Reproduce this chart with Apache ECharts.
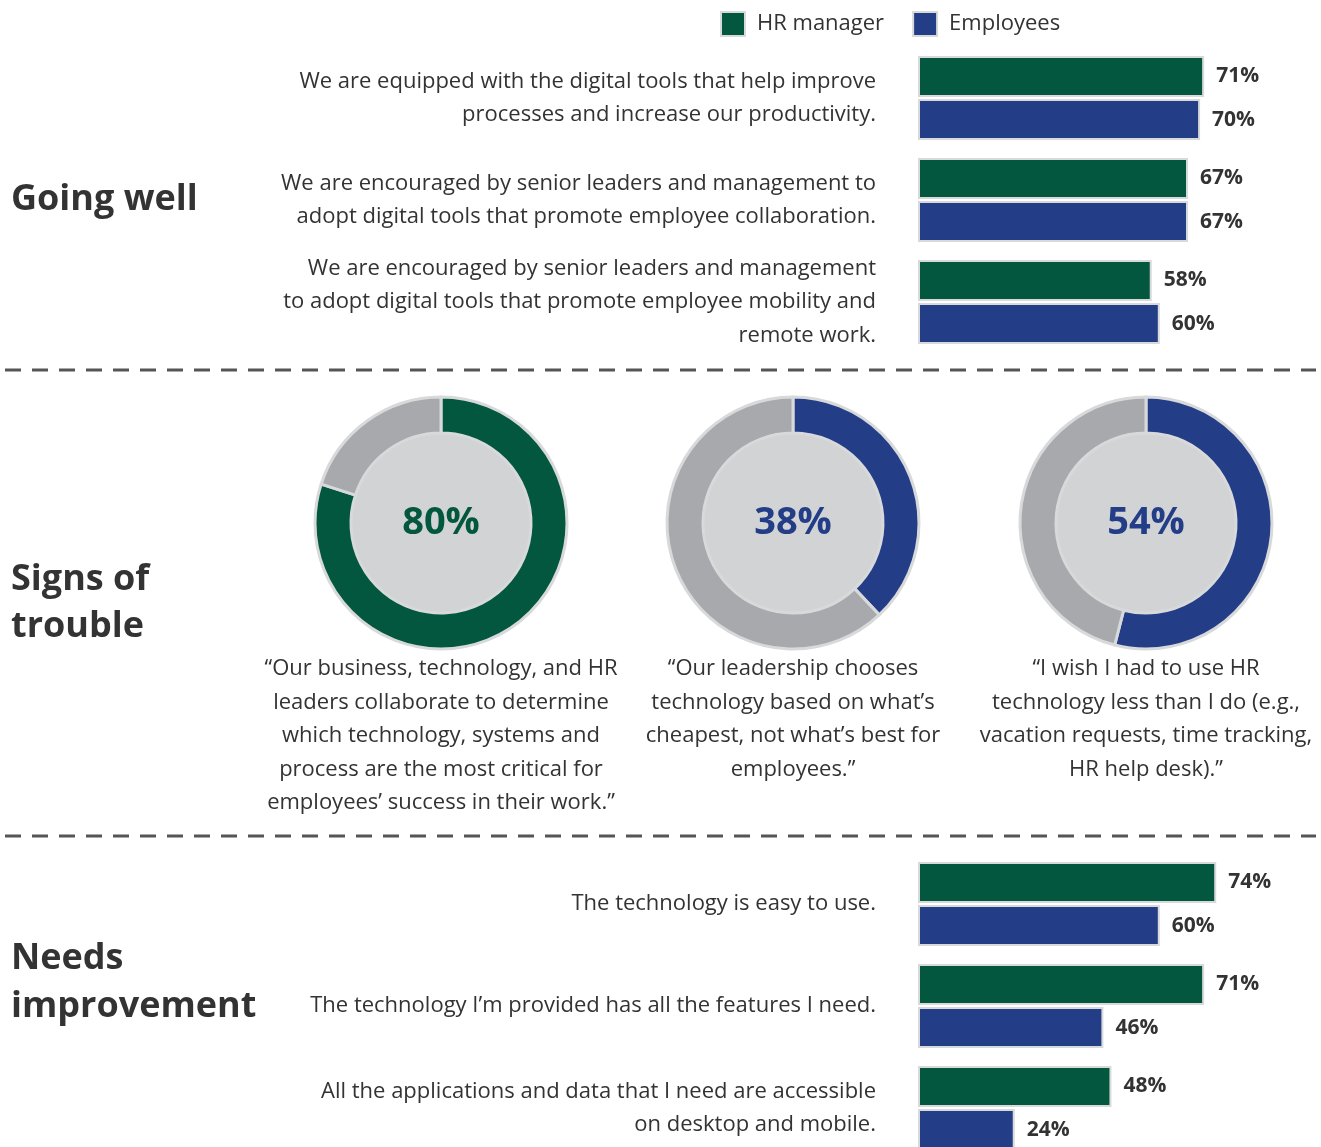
<!DOCTYPE html>
<html>
<head>
<meta charset="utf-8">
<title>HR technology survey</title>
<script src="https://cdn.jsdelivr.net/npm/echarts@6/dist/echarts.min.js"></script>
<style>
  html, body { margin: 0; padding: 0; background: #ffffff; }
  #chart { width: 1321px; height: 1147px; }
</style>
</head>
<body>
<div id="chart"></div>
<script>
// Survey statements and answers (percent agreeing)
const seriesNames = ['HR manager', 'Employees'];

const goingWellStatements = [
  'We are equipped with the digital tools that help improve\nprocesses and increase our productivity.',
  'We are encouraged by senior leaders and management to\nadopt digital tools that promote employee collaboration.',
  'We are encouraged by senior leaders and management\nto adopt digital tools that promote employee mobility and\nremote work.'
];
const goingWellHR = [71, 67, 58];
const goingWellEmployees = [70, 67, 60];

const needsStatements = [
  'The technology is easy to use.',
  'The technology I’m provided has all the features I need.',
  'All the applications and data that I need are accessible\non desktop and mobile.'
];
const needsHR = [74, 71, 48];
const needsEmployees = [60, 46, 24];

const troubleValues = [80, 38, 54];
const troubleGroups = ['HR manager', 'Employees', 'Employees'];
const troubleQuotes = [
  '“Our business, technology, and HR\nleaders collaborate to determine\nwhich technology, systems and\nprocess are the most critical for\nemployees’ success in their work.”',
  '“Our leadership chooses\ntechnology based on what’s\ncheapest, not what’s best for\nemployees.”',
  '“I wish I had to use HR\ntechnology less than I do (e.g.,\nvacation requests, time tracking,\nHR help desk).”'
];

const sectionTitles = ['Going well', 'Signs of\ntrouble', 'Needs\nimprovement'];

// Palette
const GREEN = '#02573e';
const BLUE = '#243d87';
const GREY = '#a7a9ac';
const DISK = '#d1d3d4';
const RIM = '#d8d9da';
const TEXT = '#333333';
const FONT = '"Open Sans", sans-serif';

const chart = echarts.init(document.getElementById('chart'), null, { renderer: 'canvas' });

const colorOf = { 'HR manager': GREEN, 'Employees': BLUE };

function barSeries(name, data, gridIdx) {
  return {
    type: 'bar',
    name: name,
    xAxisIndex: gridIdx,
    yAxisIndex: gridIdx,
    data: data,
    barWidth: 41,
    barGap: '5%',
    itemStyle: { color: colorOf[name], borderColor: RIM, borderWidth: 2 },
    label: {
      show: true,
      position: 'right',
      distance: 12,
      formatter: '{c}%',
      fontFamily: FONT,
      fontWeight: 'bold',
      fontSize: 21,
      color: TEXT
    },
    silent: true
  };
}

function categoryAxis(cats, gridIdx) {
  return {
    type: 'category',
    gridIndex: gridIdx,
    data: cats,
    inverse: true,
    axisLine: { show: false },
    axisTick: { show: false },
    splitLine: { show: false },
    axisLabel: {
      margin: 42,
      fontFamily: FONT,
      fontSize: 22,
      lineHeight: 33.5,
      color: TEXT,
      align: 'right'
    }
  };
}

function valueAxis(gridIdx) {
  return { type: 'value', gridIndex: gridIdx, min: 0, max: 100, show: false };
}

const donutCentersX = [441, 793, 1146];
const donutCenterY = 523;

const donutSeries = [];
troubleValues.forEach((v, i) => {
  const col = colorOf[troubleGroups[i]];
  // inner filled disk
  donutSeries.push({
    type: 'pie',
    center: [donutCentersX[i], donutCenterY],
    radius: [0, 91],
    silent: true,
    label: { show: false },
    labelLine: { show: false },
    itemStyle: { color: DISK },
    data: [{ value: 1, name: 'disk' + i }],
    animation: false
  });
  // ring with value share
  donutSeries.push({
    type: 'pie',
    center: [donutCentersX[i], donutCenterY],
    radius: [90, 126],
    startAngle: 90,
    clockwise: true,
    silent: true,
    labelLine: { show: false },
    itemStyle: { borderColor: RIM, borderWidth: 3 },
    data: [
      {
        value: v,
        name: 'value' + i,
        itemStyle: { color: col },
        label: {
          show: true,
          position: 'center',
          formatter: '{c}%',
          fontFamily: FONT,
          fontWeight: 'bold',
          fontSize: 38,
          color: col
        }
      },
      {
        value: 100 - v,
        name: 'rest' + i,
        itemStyle: { color: GREY },
        label: { show: false }
      }
    ],
    animation: false
  });
});

const graphics = [];
// section headings
const headingTops = [175.5, 555.5, 935];
sectionTitles.forEach((t, i) => {
  graphics.push({
    type: 'text',
    left: 11,
    top: headingTops[i],
    style: {
      text: t,
      font: 'bold 36px ' + FONT,
      lineHeight: 47.5,
      fill: TEXT
    }
  });
});
// quotes beneath donuts
troubleQuotes.forEach((q, i) => {
  graphics.push({
    type: 'text',
    x: donutCentersX[i],
    y: 652,
    style: {
      text: q,
      font: '22px ' + FONT,
      lineHeight: 33.5,
      fill: TEXT,
      align: 'center',
      verticalAlign: 'top'
    }
  });
});
// dashed section dividers
[370, 836].forEach(y => {
  graphics.push({
    type: 'line',
    shape: { x1: 5, y1: y, x2: 1316, y2: y },
    style: { stroke: '#555555', lineWidth: 3, lineDash: [16, 11] }
  });
});

const option = {
  backgroundColor: '#ffffff',
  animation: false,
  legend: {
    data: seriesNames,
    left: 715,
    top: 6,
    icon: 'rect',
    itemWidth: 24,
    itemHeight: 24,
    itemGap: 28,
    selectedMode: false,
    textStyle: {
      fontFamily: FONT,
      fontSize: 22,
      color: TEXT,
      padding: [0, 0, 0, 7]
    }
  },
  grid: [
    { left: 918, width: 403, top: 47, height: 306, outerBoundsMode: 'none' },
    { left: 918, width: 403, top: 853, height: 306, outerBoundsMode: 'none' }
  ],
  xAxis: [valueAxis(0), valueAxis(1)],
  yAxis: [categoryAxis(goingWellStatements, 0), categoryAxis(needsStatements, 1)],
  series: [
    barSeries(seriesNames[0], goingWellHR, 0),
    barSeries(seriesNames[1], goingWellEmployees, 0),
    barSeries(seriesNames[0], needsHR, 1),
    barSeries(seriesNames[1], needsEmployees, 1)
  ].concat(donutSeries),
  graphic: graphics
};

chart.setOption(option);
</script>
</body>
</html>
